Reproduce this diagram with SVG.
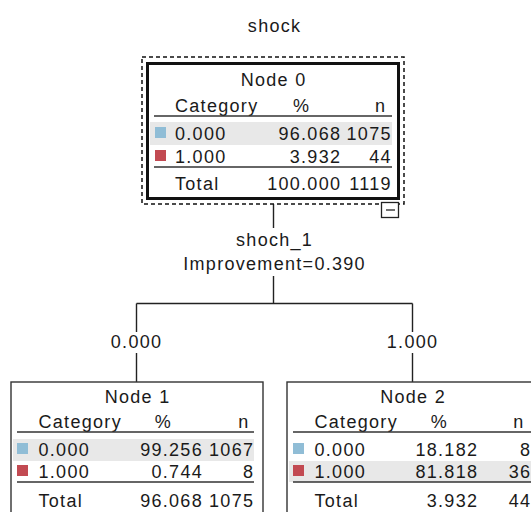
<svg xmlns="http://www.w3.org/2000/svg" width="531" height="512" viewBox="0 0 531 512">
<style>
text { font-family: "Liberation Sans", Arial, sans-serif; font-size: 18px; letter-spacing: 1.3px; fill: #1a1a1a; }
.m { text-anchor: middle; }
.e { text-anchor: end; }
.box { fill: #fff; stroke: #333; stroke-width: 1.4; }
.rule { stroke: #333; stroke-width: 1.6; }
.band { fill: #e8e8e8; }
.c0 { fill: #90bdd6; }
.c1 { fill: #c24a52; }
.conn { stroke: #222; stroke-width: 1.4; fill: none; }
</style>
<rect width="531" height="512" fill="#fff"/>
<text class="m" x="274.6" y="32">shock</text>

<g id="connectors">
  <path class="conn" d="M273.5 204 V228 M273.5 276 V303.5 M136.5 303.5 H412.5 M136.5 303.5 V332 M136.5 353 V382 M412.5 303.5 V332 M412.5 353 V382"/>
  <text class="m" x="274.6" y="246">shoch_1</text>
  <text class="m" x="274.6" y="270">Improvement=0.390</text>
  <text class="m" x="136.6" y="348">0.000</text>
  <text class="m" x="412.6" y="348">1.000</text>
</g>

<g id="node0">
  <rect x="142" y="57" width="262" height="147" fill="none" stroke="#111" stroke-width="1.5" stroke-dasharray="4 3"/>
  <rect x="147.5" y="63.5" width="251" height="135" fill="#fff" stroke="#111" stroke-width="3"/>
  <rect x="381.5" y="202.5" width="17" height="15" fill="#fff" stroke="#222" stroke-width="1.3"/>
  <line x1="386" y1="210" x2="395" y2="210" stroke="#222" stroke-width="1.3"/>
  <text class="m" x="273.6" y="86">Node 0</text>
  <text x="175" y="112">Category</text>
  <text class="m" x="301.6" y="112">%</text>
  <text class="e" x="386.3" y="112">n</text>
  <line class="rule" x1="154" y1="116" x2="392" y2="116"/>
  <rect class="band" x="150" y="122" width="242" height="23"/>
  <rect class="c0" x="155" y="127" width="11" height="11"/>
  <text x="175" y="140">0.000</text>
  <text class="e" x="341.3" y="140">96.068</text>
  <text class="e" x="391.8" y="140">1075</text>
  <rect class="c1" x="155" y="150" width="11" height="11"/>
  <text x="175" y="163">1.000</text>
  <text class="e" x="341.3" y="163">3.932</text>
  <text class="e" x="391.8" y="163">44</text>
  <line class="rule" x1="154" y1="167" x2="392" y2="167"/>
  <text x="175" y="190">Total</text>
  <text class="e" x="341.3" y="190">100.000</text>
  <text class="e" x="391.8" y="190">1119</text>
</g>

<g id="node1">
  <rect class="box" x="11" y="382" width="252" height="140"/>
  <text class="m" x="137.6" y="403">Node 1</text>
  <text x="38.5" y="428">Category</text>
  <text class="m" x="163.3" y="428">%</text>
  <text class="e" x="249.5" y="428">n</text>
  <line class="rule" x1="17" y1="432" x2="254" y2="432"/>
  <rect class="band" x="13" y="439" width="241" height="22"/>
  <rect class="c0" x="17" y="443" width="11" height="11"/>
  <text x="38.5" y="455.5">0.000</text>
  <text class="e" x="203" y="455.5">99.256</text>
  <text class="e" x="254.3" y="455.5">1067</text>
  <rect class="c1" x="17" y="465" width="11" height="11"/>
  <text x="38.5" y="478">1.000</text>
  <text class="e" x="203" y="478">0.744</text>
  <text class="e" x="254.3" y="478">8</text>
  <line class="rule" x1="17" y1="482" x2="254" y2="482"/>
  <text x="38.5" y="507">Total</text>
  <text class="e" x="203" y="507">96.068</text>
  <text class="e" x="254.3" y="507">1075</text>
</g>

<g id="node2">
  <rect class="box" x="287" y="382" width="252" height="140"/>
  <text class="m" x="413.1" y="403">Node 2</text>
  <text x="314.5" y="428">Category</text>
  <text class="m" x="439.3" y="428">%</text>
  <text class="e" x="524.5" y="428">n</text>
  <line class="rule" x1="293" y1="432" x2="531" y2="432"/>
  <rect class="band" x="289" y="461" width="242" height="21"/>
  <rect class="c0" x="293" y="443" width="11" height="11"/>
  <text x="314.5" y="455.5">0.000</text>
  <text class="e" x="478.3" y="455.5">18.182</text>
  <text class="e" x="531.3" y="455.5">8</text>
  <rect class="c1" x="293" y="465" width="11" height="11"/>
  <text x="314.5" y="478">1.000</text>
  <text class="e" x="478.3" y="478">81.818</text>
  <text class="e" x="531.3" y="478">36</text>
  <line class="rule" x1="293" y1="482" x2="531" y2="482"/>
  <text x="314.5" y="507">Total</text>
  <text class="e" x="478.3" y="507">3.932</text>
  <text class="e" x="531.3" y="507">44</text>
</g>
</svg>
